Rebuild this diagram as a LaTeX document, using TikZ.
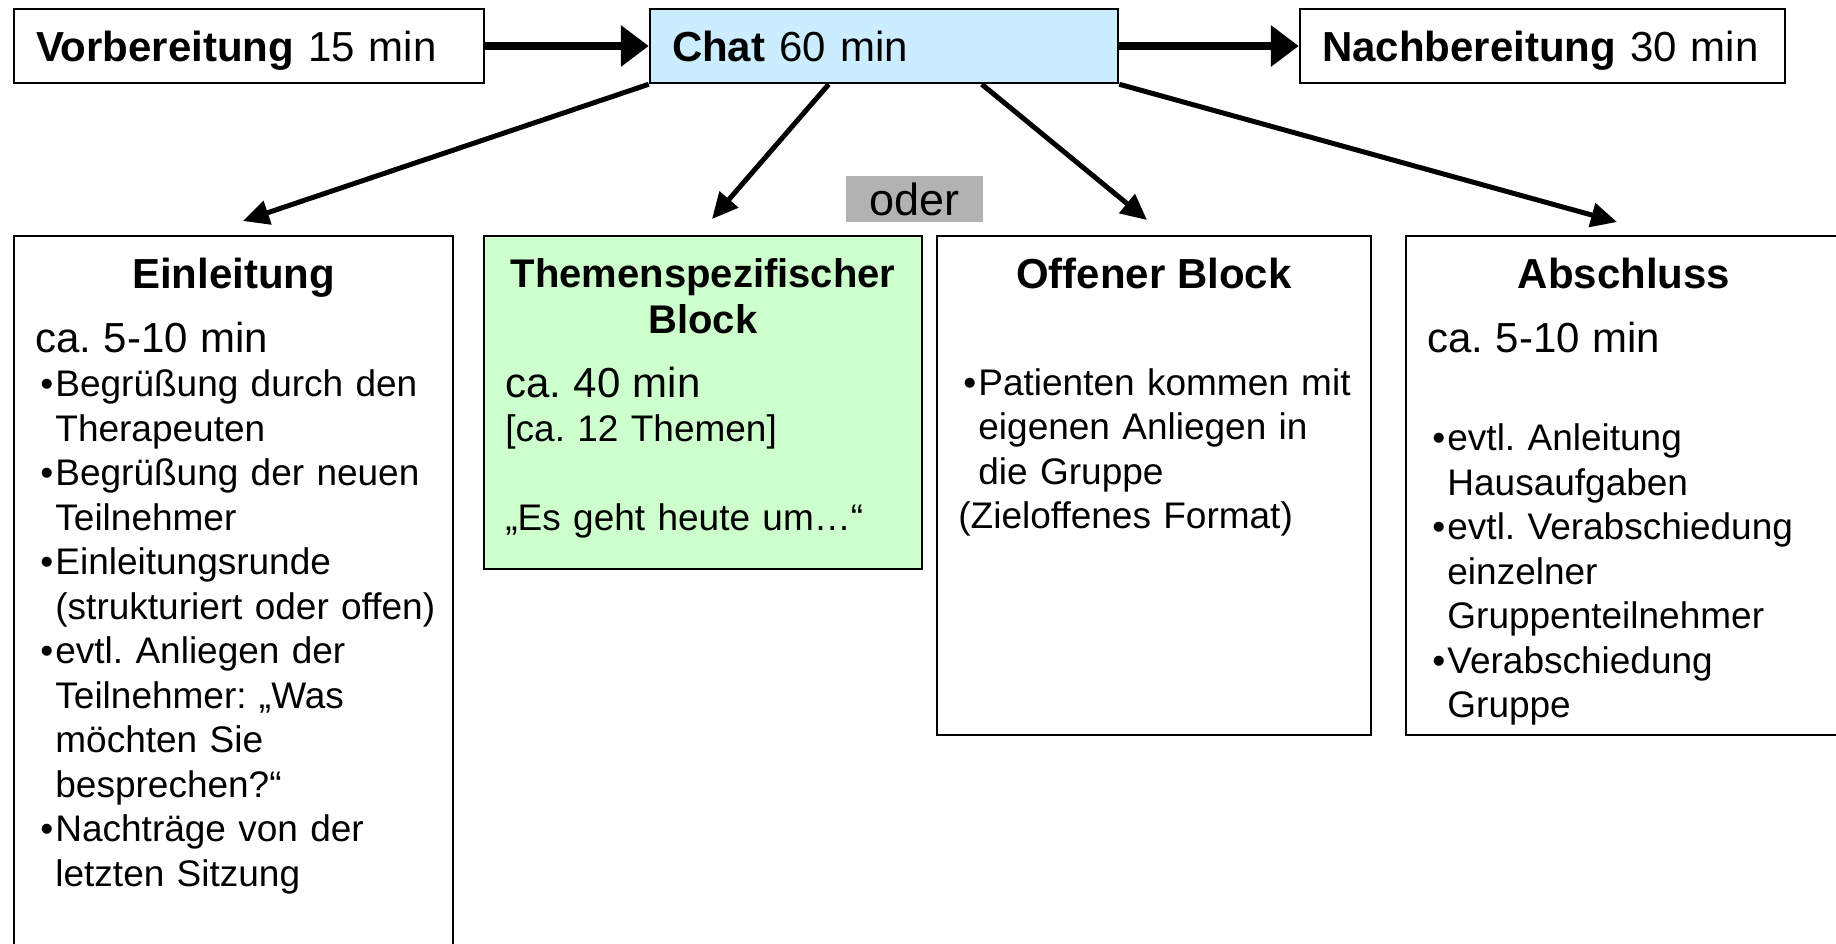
\documentclass[tikz,border=0pt]{standalone}
\usepackage{fontspec}
\setmainfont{Liberation Sans}
\usetikzlibrary{arrows.meta}
\definecolor{cChat}{RGB}{204,236,255}
\definecolor{cTopic}{RGB}{204,255,204}
\definecolor{cOder}{RGB}{178,178,178}
\newcommand{\fsBig}{\fontsize{21pt}{25pt}\selectfont}
\newcommand{\fsTxt}{\fontsize{18.5pt}{22.25pt}\selectfont}
\newcommand{\itm}[1]{\hangindent=10pt\hangafter=1\noindent
  \makebox[10pt][l]{\hspace{2.5pt}\textbullet}{\let\\\newline #1}\par}

\begin{document}
\frenchspacing
\begin{tikzpicture}[
  x=0.5pt, y=-0.5pt,
  box/.style   ={draw=black, line width=1.25pt, inner sep=0pt},
  phase/.style ={box, minimum height=37pt, inner xsep=11pt, text depth=0pt,
                 align=left, font=\fsBig},
  ttl/.style   ={anchor=base, inner sep=0pt, align=center, font=\fsBig\bfseries},
  body/.style  ={anchor=base west, inner sep=0pt, align=left, font=\fsTxt},
  flow/.style  ={-{Triangle[length=14pt,width=20pt]}, line width=4pt},
  branch/.style={-{Triangle[length=13pt,width=12pt]}, line width=2.5pt},
]
\useasboundingbox (0,0) rectangle (1836,943);
\clip (0,0) rectangle (1836,943);

% ----- phases -----------------------------------------------------------
\node[phase, text width=213pt] (vorb) at (249,46) {\textbf{Vorbereitung} 15 min};
\node[phase, text width=212pt, fill=cChat] (chat) at (884,46) {\textbf{Chat} 60 min};
\node[phase, text width=220.5pt] (nach) at (1542.5,46) {\textbf{Nachbereitung} 30 min};

% ----- blocks of the chat -------------------------------------------------
\node[box, minimum width=219.5pt, minimum height=382pt] (einl) at (233.5,618) {};
\node[box, fill=cTopic, minimum width=219pt, minimum height=166.5pt] (them) at (703,402.5) {};
\node[box, minimum width=217pt, minimum height=249.5pt] (offen) at (1154,485.5) {};
\node[box, minimum width=218pt, minimum height=249.5pt] (absch) at (1624,485.5) {};

\node[fill=cOder, minimum width=68.5pt, minimum height=23pt, inner sep=0pt,
      font=\fontsize{22.5pt}{27pt}\selectfont] (oder) at (914.5,199) {oder};

% ----- titles -------------------------------------------------------------
\node[ttl] (einlT) at (233.5,288) {Einleitung};
\node[ttl, font=\fontsize{20pt}{23pt}\selectfont\bfseries] (themT) at (703,333)
      {Themenspezifischer\\Block};
\node[ttl] (offenT) at (1154,288) {Offener Block};
\node[ttl] (abschT) at (1624,288) {Abschluss};

% ----- contents -----------------------------------------------------------
\node[body, text width=205pt] (einlB) at (35,352) {{\fsBig ca. 5-10 min\par}
  \itm{Begrüßung durch den\\Therapeuten}
  \itm{Begrüßung der neuen\\Teilnehmer}
  \itm{Einleitungsrunde\\(strukturiert oder offen)}
  \itm{evtl. Anliegen der\\Teilnehmer: „Was\\möchten Sie\\besprechen?“}
  \itm{Nachträge von der\\letzten Sitzung}};

\node[body, text width=200pt] (themB) at (505,397) {{\fsBig ca. 40 min\par}
  [ca. 12 Themen]\par\vspace{22.25pt}
  „Es geht heute um…“};

\node[body, text width=200pt] (offenB) at (958,395)
  {\itm{Patienten kommen mit\\eigenen Anliegen in\\die Gruppe}\noindent
   (Zieloffenes Format)};

\node[body, text width=200pt] (abschB) at (1427,352) {{\fsBig ca. 5-10 min\par}\vspace{27pt}
  \itm{evtl. Anleitung\\Hausaufgaben}
  \itm{evtl. Verabschiedung\\einzelner\\Gruppenteilnehmer}
  \itm{Verabschiedung\\Gruppe}};

% ----- arrows -------------------------------------------------------------
\coordinate (einlIn)  at (243,221);
\coordinate (themIn)  at (712,219);
\coordinate (offenIn) at (1147,220);
\coordinate (abschIn) at (1617,222);

\draw[flow] (vorb) -- (chat);
\draw[flow] (chat) -- (nach);
\draw[branch] (chat.south west) -- (einlIn);
\draw[branch] ([xshift=90pt]chat.south west) -- (themIn);
\draw[branch] ([xshift=166.5pt]chat.south west) -- (offenIn);
\draw[branch] (chat.south east) -- (abschIn);

\end{tikzpicture}
\end{document}
